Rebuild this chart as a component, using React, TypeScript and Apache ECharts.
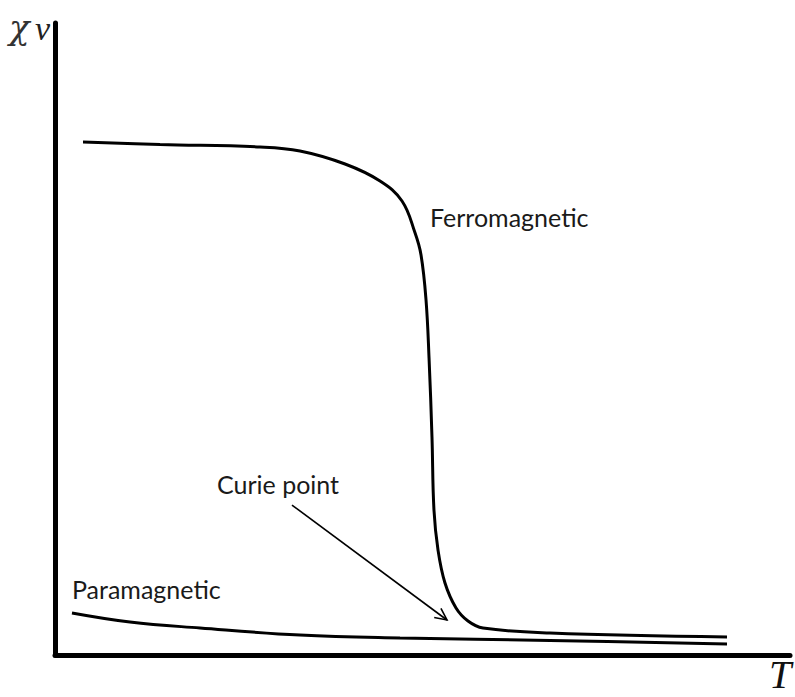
import React, { useEffect, useRef } from "react";
import * as echarts from "echarts";

// Temperature axis (arbitrary units 0..100) and susceptibility (arbitrary units 0..100)
const ferroT = [3.81, 14.29, 27.89, 33.33, 39.46, 44.22, 47.21, 48.98, 49.8, 50.48, 50.89, 51.29, 51.56, 52.11, 53.06, 54.56, 56.19, 58.23, 67.35, 91.43];
const ferroChi = [81.17, 80.77, 80.38, 79.75, 77.69, 75.0, 71.84, 66.8, 63.29, 56.17, 47.0, 34.49, 22.94, 16.61, 11.39, 7.44, 5.38, 4.27, 3.48, 2.85];

const paraT = [2.31, 10.2, 19.73, 33.33, 46.94, 67.35, 91.43];
const paraChi = [6.65, 5.22, 4.27, 3.16, 2.69, 2.3, 1.74];

// Curie point arrow: [T start, chi start, T end, chi end]
const curieArrow = [[32.24, 23.73, 53.33, 5.54]];

const seriesLabels = ["Ferromagnetic", "Paramagnetic", "Curie point"];
const axisLabels = { y: "χ", ySub: "v", x: "T" };

const zip = (a: number[], b: number[]) => a.map((v, i) => [v, b[i]]);

export default function App() {
  const ref = useRef<HTMLDivElement>(null);
  useEffect(() => {
    if (!ref.current) return;
    const chart = echarts.init(ref.current, null, { renderer: "svg" });
    const labelFont = "Lato, 'Open Sans', sans-serif";
    chart.setOption({
      animation: false,
      backgroundColor: "#ffffff",
      grid: { left: 55, right: 5, top: 23, bottom: 42, containLabel: false },
      xAxis: {
        type: "value",
        min: 0,
        max: 100,
        axisLine: { show: true, onZero: false, lineStyle: { color: "#000", width: 5 } },
        axisTick: { show: false },
        axisLabel: { show: false },
        splitLine: { show: false },
      },
      yAxis: {
        type: "value",
        min: 0,
        max: 100,
        axisLine: { show: true, onZero: false, lineStyle: { color: "#000", width: 5 } },
        axisTick: { show: false },
        axisLabel: { show: false },
        splitLine: { show: false },
      },
      series: [
        {
          name: seriesLabels[0],
          type: "line",
          data: zip(ferroT, ferroChi),
          showSymbol: false,
          smooth: 0.4,
          lineStyle: { color: "#000", width: 3 },
        },
        {
          name: seriesLabels[1],
          type: "line",
          data: zip(paraT, paraChi),
          showSymbol: false,
          smooth: 0.4,
          lineStyle: { color: "#000", width: 3 },
        },
        {
          name: seriesLabels[2],
          type: "custom",
          data: curieArrow,
          encode: { x: [0, 2], y: [1, 3] },
          renderItem: (params: any, api: any) => {
            const p1 = api.coord([api.value(0), api.value(1)]);
            const p2 = api.coord([api.value(2), api.value(3)]);
            const ang = Math.atan2(p2[1] - p1[1], p2[0] - p1[0]);
            const len = 13;
            const spread = 0.45;
            const a1 = [p2[0] - len * Math.cos(ang - spread), p2[1] - len * Math.sin(ang - spread)];
            const a2 = [p2[0] - len * Math.cos(ang + spread), p2[1] - len * Math.sin(ang + spread)];
            return {
              type: "group",
              children: [
                {
                  type: "line",
                  shape: { x1: p1[0], y1: p1[1], x2: p2[0], y2: p2[1] },
                  style: { stroke: "#000", lineWidth: 1.6, fill: "none" },
                },
                {
                  type: "polyline",
                  shape: { points: [a1, p2, a2] },
                  style: { stroke: "#000", lineWidth: 1.6, fill: "none" },
                },
              ],
            };
          },
        },
      ],
      graphic: [
        {
          type: "text",
          x: 9,
          y: 27,
          style: {
            text: axisLabels.y,
            fontFamily: "'DejaVu Serif', serif",
            fontStyle: "italic",
            fontSize: 34,
            fill: "#333",
            align: "left",
            verticalAlign: "middle",
          },
        },
        {
          type: "text",
          x: 35,
          y: 28,
          style: {
            text: axisLabels.ySub,
            fontFamily: "'Liberation Serif', serif",
            fontStyle: "italic",
            fontSize: 34,
            fill: "#222",
            align: "left",
            verticalAlign: "middle",
          },
        },
        {
          type: "text",
          x: 780,
          y: 674,
          style: {
            text: axisLabels.x,
            fontFamily: "'Liberation Serif', serif",
            fontStyle: "italic",
            fontSize: 40,
            lineHeight: 40,
            fill: "#111",
            align: "center",
            verticalAlign: "middle",
          },
        },
        {
          type: "text",
          x: 430,
          y: 217,
          style: { text: seriesLabels[0], fontFamily: labelFont, fontSize: 25, fill: "#1a1a1a", align: "left", verticalAlign: "middle" },
        },
        {
          type: "text",
          x: 72,
          y: 589,
          style: { text: seriesLabels[1], fontFamily: labelFont, fontSize: 25, fill: "#1a1a1a", align: "left", verticalAlign: "middle" },
        },
        {
          type: "text",
          x: 217,
          y: 484,
          style: { text: seriesLabels[2], fontFamily: labelFont, fontSize: 25, fill: "#1a1a1a", align: "left", verticalAlign: "middle" },
        },
      ],
    });
    return () => chart.dispose();
  }, []);
  return <div ref={ref} style={{ width: 795, height: 697, position: "absolute", left: 0, top: 0 }} />;
}
